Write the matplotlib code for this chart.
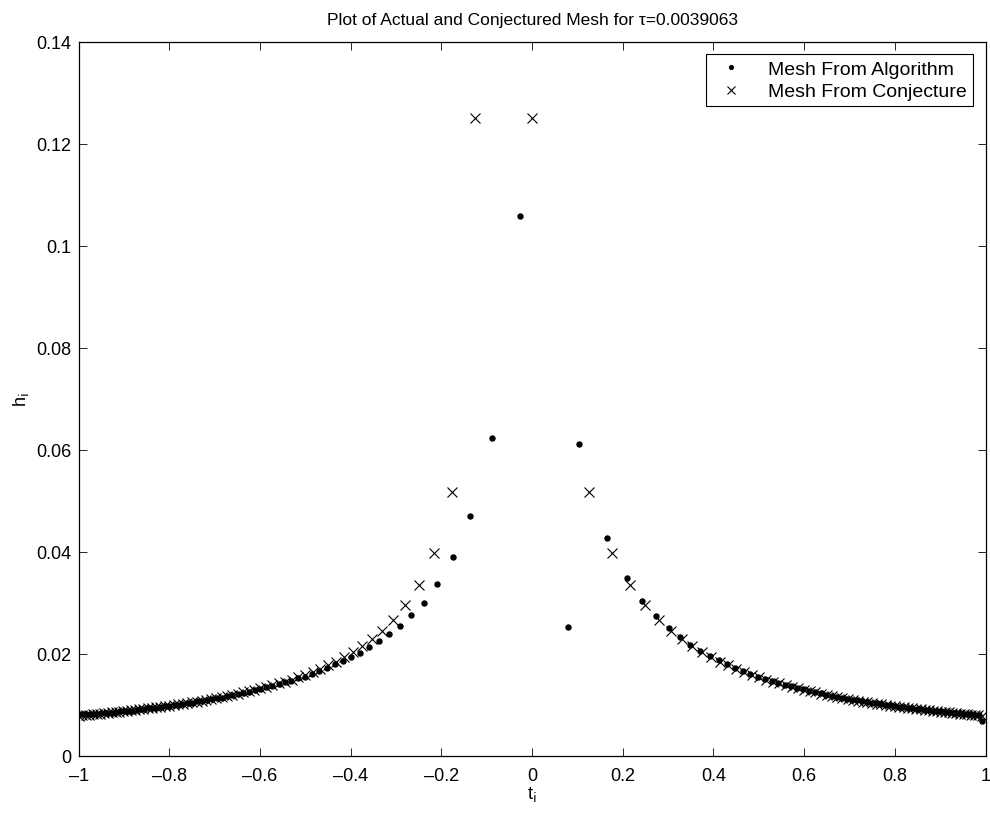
import numpy as np
import matplotlib
matplotlib.use("Agg")
import matplotlib.pyplot as plt
from matplotlib.ticker import FuncFormatter

# mesh widths h_i; mesh nodes t_i start at -1
# algorithm mesh, left part (t from -1 to about -0.21)
alg_h_left = [0.0082, 0.0082, 0.0082, 0.0081, 0.0081, 0.0081, 0.0083, 0.0083,
              0.0084, 0.0084, 0.0085, 0.0087, 0.0087, 0.0088, 0.0088, 0.0090,
              0.0091, 0.0091, 0.0093, 0.0094, 0.0094, 0.0096, 0.0097, 0.0098,
              0.0100, 0.0100, 0.0102, 0.0104, 0.0104, 0.0107, 0.0107, 0.0110,
              0.0111, 0.0113, 0.0114, 0.0117, 0.0119, 0.0121, 0.0123, 0.0125,
              0.0128, 0.0131, 0.0134, 0.0137, 0.0140, 0.0144, 0.0147, 0.0152,
              0.0155, 0.0161, 0.0166, 0.0172, 0.0179, 0.0185, 0.0194, 0.0202,
              0.0213, 0.0225, 0.0239, 0.0255, 0.0275, 0.0300]
# algorithm mesh, the few big cells round t = 0
alg_h_mid = [0.0337, 0.0389, 0.0471, 0.0624, 0.1059, 0.0252, 0.0612, 0.0427]
# algorithm mesh, right part (t from about 0.21 to 1)
alg_h_right = [0.0348, 0.0304, 0.0273, 0.0251, 0.0232, 0.0218, 0.0206, 0.0196,
               0.0187, 0.0179, 0.0172, 0.0166, 0.0160, 0.0155, 0.0151, 0.0147,
               0.0143, 0.0139, 0.0136, 0.0133, 0.0130, 0.0127, 0.0125, 0.0122,
               0.0120, 0.0118, 0.0116, 0.0114, 0.0112, 0.0110, 0.0109, 0.0107,
               0.0106, 0.0104, 0.0103, 0.0101, 0.0100, 0.0099, 0.0098, 0.0096,
               0.0095, 0.0094, 0.0093, 0.0092, 0.0091, 0.0090, 0.0089, 0.0088,
               0.0088, 0.0087, 0.0086, 0.0085, 0.0084, 0.0084, 0.0083, 0.0082,
               0.0081, 0.0081, 0.0080, 0.0079, 0.0068]

# conjectured mesh, right half from t = 0 out to 1 (left half is its mirror)
conj_h_right = [0.1250, 0.0518, 0.0397, 0.0335, 0.0295, 0.0267, 0.0245, 0.0228,
                0.0215, 0.0203, 0.0193, 0.0184, 0.0177, 0.0170, 0.0164, 0.0159,
                0.0154, 0.0149, 0.0145, 0.0142, 0.0138, 0.0135, 0.0132, 0.0129,
                0.0126, 0.0124, 0.0121, 0.0119, 0.0117, 0.0115, 0.0113, 0.0111,
                0.0110, 0.0108, 0.0106, 0.0105, 0.0103, 0.0102, 0.0101, 0.0099,
                0.0098, 0.0097, 0.0096, 0.0095, 0.0094, 0.0093, 0.0092, 0.0091,
                0.0090, 0.0089, 0.0088, 0.0087, 0.0086, 0.0085, 0.0085, 0.0084,
                0.0083, 0.0082, 0.0082, 0.0081, 0.0080, 0.0080, 0.0079, 0.0078]

title = "Plot of Actual and Conjectured Mesh for \u03c4=0.0039063"
legend_labels = ["Mesh From Algorithm", "Mesh From Conjecture"]
xticks = [-1, -0.8, -0.6, -0.4, -0.2, 0, 0.2, 0.4, 0.6, 0.8, 1]
yticks = [0, 0.02, 0.04, 0.06, 0.08, 0.1, 0.12, 0.14]


def nodes(h, start=-1.0):
    # left end of every cell: t_i = start + h_0 + ... + h_(i-1)
    h = np.asarray(h)
    return start + np.concatenate(([0.0], np.cumsum(h[:-1])))


alg_h = np.array(alg_h_left + alg_h_mid + alg_h_right)
alg_t = nodes(alg_h)
conj_h = np.array(conj_h_right[::-1] + conj_h_right)
conj_t = nodes(conj_h)

plt.rcParams['font.family'] = ['Liberation Sans', 'DejaVu Sans']
plt.rcParams['font.size'] = 13

fig = plt.figure(figsize=(9.9, 8.2), dpi=100)
ax = fig.add_axes([0.0794, 0.0772, 0.9161, 0.8706])

ax.plot(alg_t, alg_h, linestyle='none', marker='o', markersize=3.6,
        color='black', label=legend_labels[0])
ax.plot(conj_t, conj_h, linestyle='none', marker='x', markersize=6.8,
        markeredgewidth=0.8, color='black', label=legend_labels[1])

ax.set_xlim(-1, 1)
ax.set_ylim(0, 0.14)
ax.set_xticks(xticks)
ax.set_yticks(yticks)
fmt = FuncFormatter(lambda v, p: ('%g' % v).replace('-', '\u2013'))
ax.xaxis.set_major_formatter(fmt)
ax.yaxis.set_major_formatter(fmt)
ax.tick_params(axis='both', direction='in', length=6, width=0.6, top=True,
               right=True, labelsize=13)
ax.tick_params(axis='x', pad=8)
ax.tick_params(axis='y', pad=5)
for s in ax.spines.values():
    s.set_linewidth(0.9)

ax.set_title(title, fontsize=12.5, pad=13)
ax.set_xlabel(r't$_\mathrm{i}$', fontsize=13, labelpad=0)
ax.set_ylabel(r'h$_\mathrm{i}$', fontsize=13, labelpad=4)

leg = ax.legend(loc='upper right', fancybox=False, framealpha=1,
                edgecolor='black', handlelength=2.0, handletextpad=0.9,
                borderaxespad=0.65, borderpad=0.3, labelspacing=0.25,
                markerscale=0.75, fontsize=14)
leg.get_frame().set_linewidth(0.8)

fig.savefig('out.png', dpi=100)
